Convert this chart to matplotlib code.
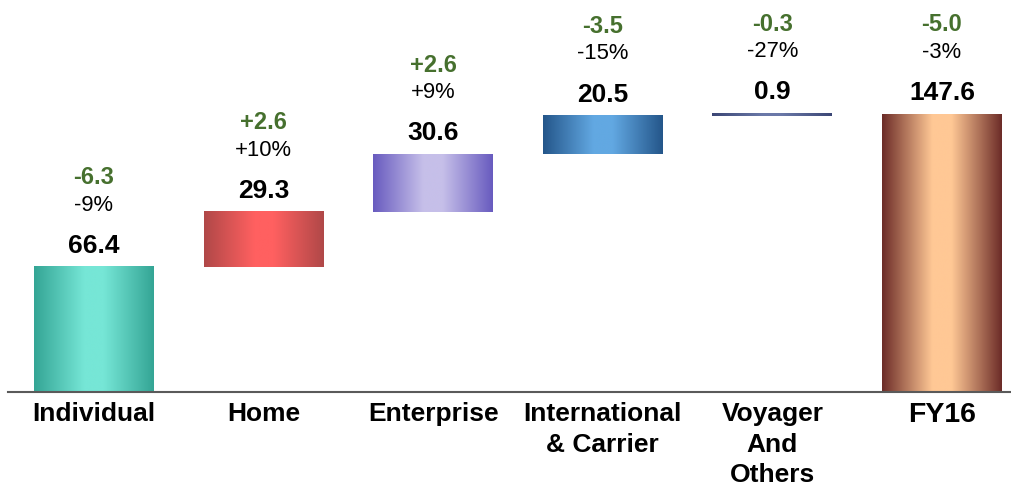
import numpy as np
import matplotlib
matplotlib.use("Agg")
import matplotlib.pyplot as plt
from matplotlib.colors import LinearSegmentedColormap

# ---- data ----
categories = ["Individual", "Home", "Enterprise", "International\n& Carrier",
              "Voyager\nAnd\nOthers", "FY16"]
values = [66.4, 29.3, 30.6, 20.5, 0.9, 147.6]
deltas = ["-6.3", "+2.6", "+2.6", "-3.5", "-0.3", "-5.0"]
pcts = ["-9%", "+10%", "+9%", "-15%", "-27%", "-3%"]
value_labels = ["66.4", "29.3", "30.6", "20.5", "0.9", "147.6"]

# gradient colours (edge, centre)
edge_colors = ["#34a595", "#b04848", "#685bbf", "#24568a", "#3b4675", "#6c2c28"]
center_colors = ["#76e6d6", "#ff6060", "#c6bfe9", "#62a8e2", "#6a78a8", "#ffc895"]

plt.rcParams['font.family'] = ['Liberation Sans', 'DejaVu Sans']

fig = plt.figure(figsize=(10.11, 4.86), dpi=100)
ax = fig.add_axes([8 / 1011, 94 / 486, 1003 / 1011, 392 / 486])

# waterfall bottoms: segments stacked, last is a total from zero
bottoms = list(np.concatenate([[0], np.cumsum(values[:-2])])) + [0]
x = np.arange(len(categories))

bars = ax.bar(x, values, bottom=bottoms, width=0.707, color="none", edgecolor="none", zorder=2)

grad = np.linspace(0, 1, 256).reshape(1, -1)
for i, patch in enumerate(bars.patches):
    cmap = LinearSegmentedColormap.from_list(
        f"g{i}", [(0, edge_colors[i]), (0.42, center_colors[i]),
                  (0.58, center_colors[i]), (1, edge_colors[i])])
    x0, y0 = patch.get_x(), patch.get_y()
    w, h = patch.get_width(), patch.get_height()
    h_draw = max(h, 1.2)
    ax.imshow(grad, cmap=cmap, aspect="auto",
              extent=[x0, x0 + w, y0, y0 + h_draw], zorder=2,
              interpolation="bilinear")

for i, patch in enumerate(bars.patches):
    cx = patch.get_x() + patch.get_width() / 2
    top = patch.get_y() + max(patch.get_height(), 1.2)
    ax.annotate(value_labels[i], (cx, top), xytext=(0, 10), textcoords="offset points",
                ha="center", va="baseline", fontsize=19, fontweight="bold", color="black")
    ax.annotate(pcts[i], (cx, top), xytext=(0, 10 + 30.5), textcoords="offset points",
                ha="center", va="baseline", fontsize=15.8, color="black")
    ax.annotate(deltas[i], (cx, top), xytext=(0, 10 + 49.5), textcoords="offset points",
                ha="center", va="baseline", fontsize=17, fontweight="bold", color="#46702e")

ax.set_xlim(-0.507, 5.407)
ax.set_ylim(0, 208.2)
ax.set_xticks(x)
ax.set_xticklabels(categories, fontsize=19, fontweight="bold", linespacing=1.33)
ax.get_xticklabels()[-1].set_fontsize(20.5)
ax.tick_params(axis="x", length=0, pad=7.5)
ax.set_yticks([])
for s in ["top", "left", "right"]:
    ax.spines[s].set_visible(False)
ax.spines["bottom"].set_color("#5a5a5a")
ax.spines["bottom"].set_linewidth(1.5)
ax.spines["bottom"].set_zorder(3)
ax.patch.set_alpha(0)

fig.savefig("out.png", dpi=100)
